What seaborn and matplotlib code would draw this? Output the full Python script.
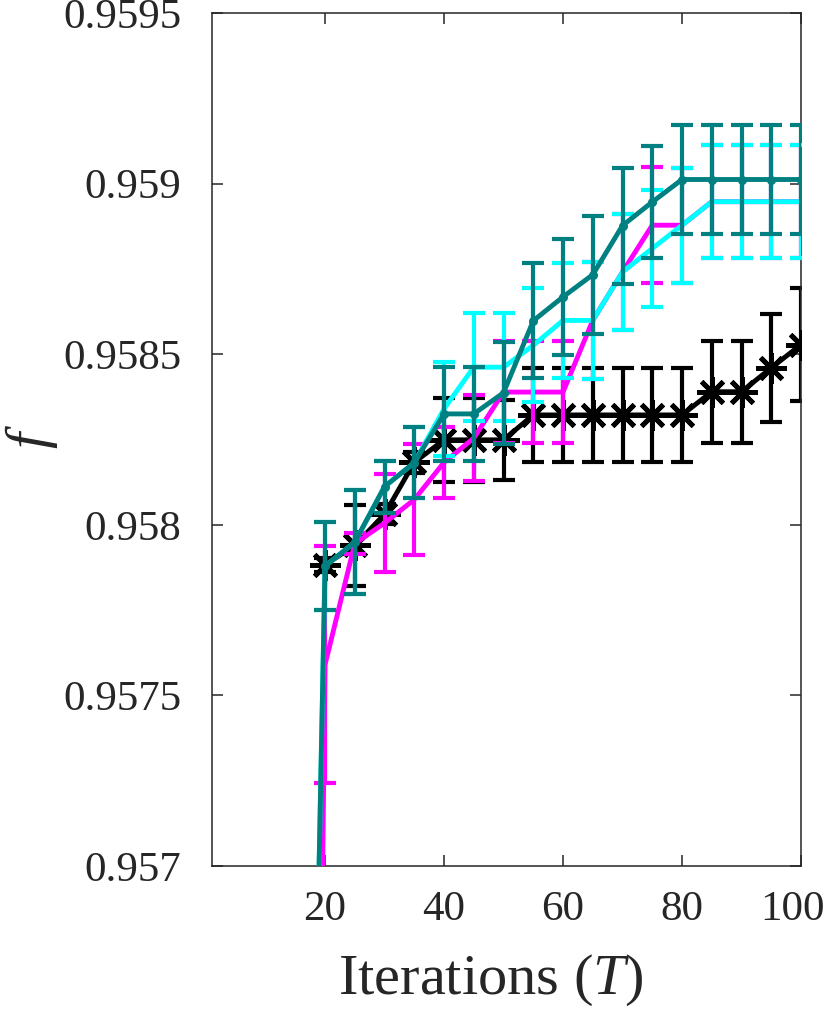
import numpy as np
import pandas as pd
import matplotlib
matplotlib.use("Agg")
import matplotlib.pyplot as plt
from matplotlib.ticker import FuncFormatter
from matplotlib.transforms import ScaledTranslation
import seaborn as sns

# ── Data ──────────────────────────────────────────
T_black = [20, 25, 30, 35, 40, 45, 50, 55, 60, 65, 70, 75, 80, 85, 90, 95, 100]
f_black = [0.957882, 0.957940, 0.958031, 0.958183, 0.958249, 0.958249, 0.958249,
           0.958322, 0.958322, 0.958322, 0.958322, 0.958322, 0.958322,
           0.958390, 0.958390, 0.958460, 0.958528]
e_black = [0.00002, 0.000119, 0.00003, 0.00003, 0.000123, 0.000123, 0.000118,
           0.000138, 0.000138, 0.000138, 0.000138, 0.000138, 0.000138,
           0.00015, 0.00015, 0.000159, 0.000165]

T_col = [15, 20, 25, 30, 35, 40, 45, 50, 55, 60, 65, 70, 75, 80, 85, 90, 95, 100]
f_magenta = [0.9502, 0.957590, 0.957945, 0.958005, 0.958074, 0.958183, 0.958254,
             0.958389, 0.958389, 0.958389, 0.958599, 0.958741, 0.958878,
             0.958878, 0.958947, 0.958947, 0.958947, 0.958947]
e_magenta = [0.0, 0.000347, 0.00003, 0.000144, 0.000163, 0.000103, 0.000125,
             0.00015, 0.00015, 0.00015, 0.000171, 0.000171, 0.00017,
             0.000169, 0.000165, 0.000165, 0.000165, 0.000165]

f_cyan = [0.9535, 0.957879, 0.957949, 0.958112, 0.958182, 0.958340, 0.958462,
          0.958462, 0.958526, 0.958599, 0.958599, 0.958741, 0.958810,
          0.958878, 0.958947, 0.958947, 0.958947, 0.958947]
e_cyan = [0.0, 0.000129, 0.000153, 0.000076, 0.000104, 0.000138, 0.000159,
          0.000159, 0.000167, 0.000169, 0.000171, 0.000171, 0.000171,
          0.000169, 0.000165, 0.000165, 0.000165, 0.000165]

f_teal = [0.9535, 0.957879, 0.957949, 0.958112, 0.958182, 0.958325, 0.958325,
          0.958387, 0.958598, 0.958668, 0.958733, 0.958877, 0.958946,
          0.959012, 0.959012, 0.959012, 0.959012, 0.959012]
e_teal = [0.0, 0.000129, 0.000153, 0.000076, 0.000104, 0.000138, 0.000138,
          0.00015, 0.000169, 0.000171, 0.000173, 0.00017, 0.000165,
          0.000159, 0.000159, 0.000159, 0.000159, 0.000159]

y_ticks = [0.957, 0.9575, 0.958, 0.9585, 0.959, 0.9595]
x_ticks = [20, 40, 60, 80, 100]

# ── Style ─────────────────────────────────────────
sns.set_theme(style="ticks")
plt.rcParams['font.family'] = ['Liberation Serif', 'DejaVu Serif']
plt.rcParams['mathtext.fontset'] = 'custom'
plt.rcParams['mathtext.rm'] = 'Liberation Serif'
plt.rcParams['mathtext.it'] = 'Liberation Serif:italic'

fig = plt.figure(figsize=(8.29, 10.14), dpi=100)
ax = fig.add_axes([212 / 829, 1 - 866 / 1014, (801 - 212) / 829, (866 - 13) / 1014])

series = [
    ("black", T_black, f_black, e_black, (8, 2, 0), 22, 0),
    ("#FF00FF", T_col, f_magenta, e_magenta, None, 0, 1),
    ("#00FFFF", T_col, f_cyan, e_cyan, None, 0, 2),
    ("#008080", T_col, f_teal, e_teal, ".", 6, 3),
]

for color, tt, ff, ee, mk, ms, z in series:
    df = pd.DataFrame({"T": tt, "f": ff})
    ax.errorbar(tt, ff, yerr=ee, fmt="none", ecolor=color, elinewidth=3,
                capsize=8, capthick=3, zorder=2 + z * 2)
    sns.lineplot(data=df, x="T", y="f", ax=ax, color=color, linewidth=3.5,
                 marker=mk, markersize=ms, markeredgewidth=3.5,
                 markeredgecolor=color, zorder=3 + z * 2)

ax.set_xlim(1, 100)
ax.set_ylim(0.957, 0.9595)
ax.set_xticks(x_ticks)
ax.set_yticks(y_ticks)
ax.yaxis.set_major_formatter(FuncFormatter(lambda v, _: f"{v:g}"))

ax.tick_params(direction="in", top=True, right=True, length=8, width=1.1,
               labelsize=31, color="#262626", labelcolor="#262626")
ax.tick_params(axis="y", pad=22)
ax.tick_params(axis="x", pad=18)
for sp in ax.spines.values():
    sp.set_linewidth(1.1)
    sp.set_color("#262626")

# keep the last x tick label inside the figure
last = ax.get_xticklabels()[-1]
last.set_transform(last.get_transform() + ScaledTranslation(-0.08, 0, fig.dpi_scale_trans))

ax.set_xlabel(r"Iterations ($T$)", fontsize=42, color="#262626")
ax.xaxis.set_label_coords(0.474, -0.101)
ax.set_ylabel("f", fontsize=42, fontstyle="italic", color="#262626")
ax.yaxis.set_label_coords(-0.262, 0.5)

fig.savefig("out.png", dpi=100)
